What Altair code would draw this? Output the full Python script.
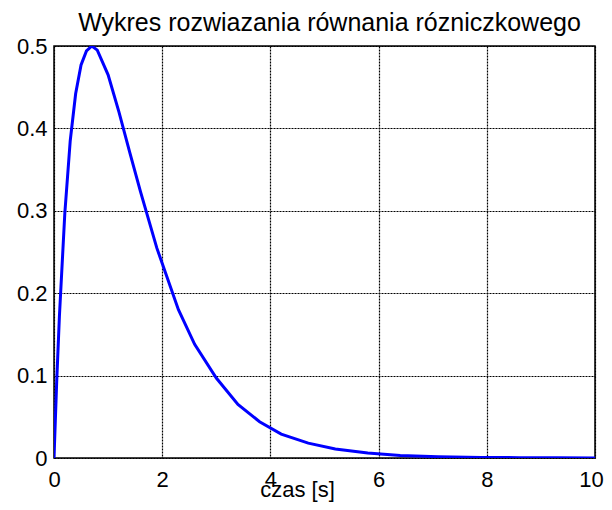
import altair as alt
import pandas as pd

t_vals = [0, 0.05, 0.1, 0.2, 0.3, 0.4, 0.5, 0.6, 0.7, 0.8, 1.0, 1.2, 1.4, 1.6,
          1.9, 2.3, 2.6, 3.0, 3.4, 3.8, 4.2, 4.7, 5.2, 5.8, 6.4, 7.1, 7.9, 8.6, 9.3, 10]
y_vals = [0, 0.093, 0.172, 0.297, 0.385, 0.442, 0.477, 0.494, 0.500, 0.495, 0.465,
          0.420, 0.371, 0.323, 0.255, 0.180, 0.138, 0.097, 0.065, 0.044, 0.029,
          0.018, 0.011, 0.006, 0.003, 0.0016, 0.0007, 0.0004, 0.0002, 0.0001]
x_ticks = [0, 2, 4, 6, 8, 10]
y_ticks = [0, 0.1, 0.2, 0.3, 0.4, 0.5]

title_text = "Wykres rozwiazania równania  rózniczkowego"
x_title = "czas [s]"

df = pd.DataFrame({"t": t_vals, "y": y_vals})

FONT = "Liberation Sans"

chart = alt.Chart(df).mark_line(color="#0000FF", strokeWidth=3, clip=True).encode(
    x=alt.X("t:Q", scale=alt.Scale(domain=[0, 10], nice=False, zero=False),
            axis=alt.Axis(values=x_ticks, format="d", title=x_title,
                          titleX=243, titleY=38, titleBaseline="alphabetic",
                          titleAnchor="start", titleAlign="center",
                          titleFont=FONT, titleFontSize=22, titleFontWeight="normal",
                          titleColor="black",
                          labelFont=FONT, labelFontSize=22, labelColor="black",
                          labelPadding=11, labelFlush=False,
                          labelOffset={"condition": {"test": "datum.value == 10", "value": -4},
                                       "value": 0},
                          ticks=False, domain=False,
                          grid=True, gridColor="black", gridDash=[2, 1],
                          gridWidth=1.2, gridOpacity=1)),
    y=alt.Y("y:Q", scale=alt.Scale(domain=[0, 0.5], nice=False, zero=False),
            axis=alt.Axis(values=y_ticks, format="~g", title=None,
                          labelFont=FONT, labelFontSize=22, labelColor="black",
                          labelPadding=7, labelFlush=False, ticks=False, domain=False,
                          grid=True, gridColor="black", gridDash=[2, 1],
                          gridWidth=1.2, gridOpacity=1)),
).properties(
    width=541,
    height=412,
    title=alt.TitleParams(title_text, font=FONT, fontSize=25, fontWeight="normal",
                          color="black", anchor="middle", offset=-1, dx=5),
    autosize=alt.AutoSizeParams(type="none"),
    padding={"left": 46, "top": 38, "right": 9, "bottom": 44},
).configure_view(stroke="black", strokeWidth=1.5)

chart.save("out.html", embed_options={"renderer": "svg", "actions": False})
